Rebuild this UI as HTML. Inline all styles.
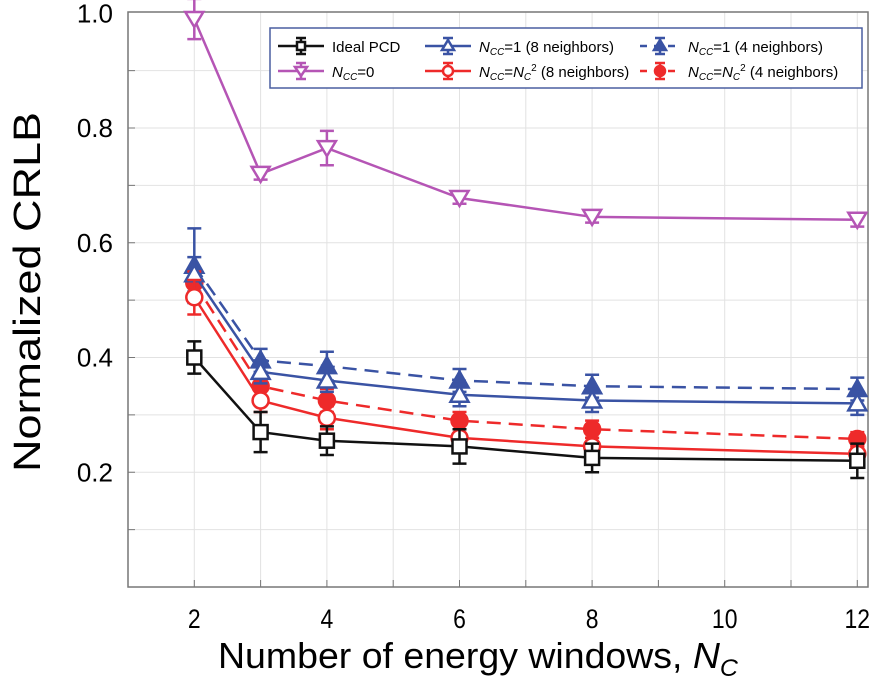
<!DOCTYPE html>
<html><head><meta charset="utf-8"><style>
body{margin:0;background:#fff;}
svg{display:block;font-family:"Liberation Sans",sans-serif;}
</style></head><body>
<svg id="chart" width="875" height="682" viewBox="0 0 875 682">
<g id="grid"></g>
<rect x="128" y="12" width="740" height="575" fill="none" stroke="#777" stroke-width="1.5"/>
<g id="axes"></g>
<g id="series"></g>
<text x="30" y="292" font-size="38" transform="rotate(-90 30 292)" text-anchor="middle" dominant-baseline="middle" textLength="360" lengthAdjust="spacingAndGlyphs">Normalized CRLB</text>
<text x="478" y="668" font-size="36" text-anchor="middle" textLength="520" lengthAdjust="spacingAndGlyphs">Number of energy windows, <tspan font-style="italic">N</tspan><tspan font-style="italic" font-size="24" dy="8">C</tspan></text>
<g id="legend">
<rect x="270" y="28" width="592" height="60" fill="#fff" stroke="#4a5fa0" stroke-width="1.5"/>
</g>
</svg>
<script>
const categories=[2,3,4,6,8,12];
const idealPCD=[0.40,0.27,0.255,0.245,0.225,0.22];
const idealErr=[0.028,0.035,0.025,0.03,0.025,0.03];
const ncc0=[0.99,0.72,0.765,0.678,0.645,0.64];
const ncc0Err=[0.035,0.01,0.03,0.01,0.01,0.012];
const ncc1n8=[0.545,0.375,0.36,0.335,0.325,0.32];
const ncc1n8Err=[0.03,0.02,0.02,0.02,0.02,0.02];
const ncc1n4=[0.56,0.395,0.385,0.36,0.35,0.345];
const ncc1n4Err=[0.065,0.02,0.025,0.02,0.02,0.02];
const nccNcN8=[0.505,0.325,0.295,0.26,0.245,0.232];
const nccNcN8Err=[0.03,0.02,0.02,0.015,0.015,0.012];
const nccNcN4=[0.53,0.35,0.325,0.29,0.275,0.258];
const nccNcN4Err=[0.02,0.02,0.02,0.015,0.015,0.012];
const yTicks=[0.2,0.4,0.6,0.8,1.0];
const yTickLabels=["0.2","0.4","0.6","0.8","1.0"];
const xTicks=[2,4,6,8,10,12];
const xTickLabels=["2","4","6","8","10","12"];

const NS="http://www.w3.org/2000/svg";
function X(v){return 128+(v-1)*66.3;}
function Y(v){return 587-v*573.75;}
function mk(tag,attrs,parent){const e=document.createElementNS(NS,tag);for(const k in attrs)e.setAttribute(k,attrs[k]);parent.appendChild(e);return e;}
const grid=document.getElementById('grid'),axes=document.getElementById('axes'),ser=document.getElementById('series'),leg=document.getElementById('legend');
for(let v=1;v<=12;v++){const l=mk('line',{x1:X(v),x2:X(v),y1:12,y2:587,stroke:'#e2e2e2','stroke-width':1},grid);


const t=mk('line',{x1:X(v),x2:X(v),y1:580,y2:587,stroke:'#777'},axes);

}
for(let i=1;i<10;i++){const v=i/10;const l=mk('line',{x1:128,x2:868,y1:Y(v),y2:Y(v),stroke:'#e2e2e2','stroke-width':1},grid);


const t=mk('line',{x1:128,x2:135,y1:Y(v),y2:Y(v),stroke:'#777'},axes);

}
yTicks.forEach((v,i)=>{const t=mk('text',{x:113,y:Y(v)+9,'font-size':26,'text-anchor':'end'},axes);t.textContent=yTickLabels[i];

});
xTicks.forEach((v,i)=>{const t=mk('text',{x:X(v),y:628,'font-size':27,'text-anchor':'middle',transform:`translate(${X(v)},0) scale(0.85,1) translate(${-X(v)},0)`},axes);t.textContent=xTickLabels[i];

});

function marker(type,color,x,y,parent,s){
 s=s||8;let e;
 if(type==='sq')e=mk('rect',{x:x-s+1,y:y-s+1,width:2*s-2,height:2*s-2,fill:'#fff',stroke:color,'stroke-width':2.5},parent);
 else if(type==='circ'||type==='fcirc')e=mk('circle',{cx:x,cy:y,r:s,fill:type==='fcirc'?color:'#fff',stroke:color,'stroke-width':2.5},parent);
 else if(type==='tri'||type==='ftri')e=mk('polygon',{points:`${x},${y-s-1} ${x-s-1},${y+s-1} ${x+s+1},${y+s-1}`,fill:type==='ftri'?color:'#fff',stroke:color,'stroke-width':2.5},parent);
 else e=mk('polygon',{points:`${x},${y+s} ${x-s-1},${y-s+1} ${x+s+1},${y-s+1}`,fill:'#fff',stroke:color,'stroke-width':2.5},parent);
 return e;}
const series=[
 {name:'ncc0',vals:ncc0,err:ncc0Err,color:'#b555b5',m:'dtri',dash:null},
 {name:'ncc1-4-neighbors',vals:ncc1n4,err:ncc1n4Err,color:'#3a53a4',m:'ftri',dash:'14 8'},
 {name:'ncc-nc2-4-neighbors',vals:nccNcN4,err:nccNcN4Err,color:'#ee2a2a',m:'fcirc',dash:'14 8'},
 {name:'ncc1-8-neighbors',vals:ncc1n8,err:ncc1n8Err,color:'#3a53a4',m:'tri',dash:null},
 {name:'ncc-nc2-8-neighbors',vals:nccNcN8,err:nccNcN8Err,color:'#ee2a2a',m:'circ',dash:null},
 {name:'ideal-pcd',vals:idealPCD,err:idealErr,color:'#111',m:'sq',dash:null}];
series.forEach(s=>{
 const g=mk('g',{},ser);
 
 
 const pts=categories.map((c,i)=>X(c)+','+Y(s.vals[i])).join(' ');
 const pl=mk('polyline',{points:pts,fill:'none',stroke:s.color,'stroke-width':2.5},g);
 if(s.dash)pl.setAttribute('stroke-dasharray',s.dash);
 
 
 categories.forEach((c,i)=>{
  const x=X(c),y1=Y(s.vals[i]+s.err[i]),y2=Y(s.vals[i]-s.err[i]);
  const eb=mk('path',{d:`M${x},${y1}V${y2}M${x-7},${y1}H${x+7}M${x-7},${y2}H${x+7}`,stroke:s.color,'stroke-width':2.5,fill:'none'},g);
  
  
  const m=marker(s.m,s.color,x,Y(s.vals[i]),g);
  
  
 });
});
// legend
const legItems=[
 {x:278,y:46,color:'#111',m:'sq',dash:null,html:'Ideal PCD'},
 {x:278,y:71,color:'#b555b5',m:'dtri',dash:null,html:'<tspan font-style="italic">N</tspan><tspan font-style="italic" font-size="10" dy="3">CC</tspan><tspan dy="-3">=0</tspan>'},
 {x:425,y:46,color:'#3a53a4',m:'tri',dash:null,html:'<tspan font-style="italic">N</tspan><tspan font-style="italic" font-size="10" dy="3">CC</tspan><tspan dy="-3">=1 (8 neighbors)</tspan>'},
 {x:425,y:71,color:'#ee2a2a',m:'circ',dash:null,html:'<tspan font-style="italic">N</tspan><tspan font-style="italic" font-size="10" dy="3">CC</tspan><tspan dy="-3">=</tspan><tspan font-style="italic">N</tspan><tspan font-style="italic" font-size="10" dy="3">C</tspan><tspan font-size="10" dy="-9">2</tspan><tspan dy="6"> (8 neighbors)</tspan>'},
 {x:640,y:46,color:'#3a53a4',m:'ftri',dash:'8 8',html:'<tspan font-style="italic">N</tspan><tspan font-style="italic" font-size="10" dy="3">CC</tspan><tspan dy="-3">=1 (4 neighbors)</tspan>'},
 {x:640,y:71,color:'#ee2a2a',m:'fcirc',dash:'8 8',html:'<tspan font-style="italic">N</tspan><tspan font-style="italic" font-size="10" dy="3">CC</tspan><tspan dy="-3">=</tspan><tspan font-style="italic">N</tspan><tspan font-style="italic" font-size="10" dy="3">C</tspan><tspan font-size="10" dy="-9">2</tspan><tspan dy="6"> (4 neighbors)</tspan>'}];
legItems.forEach(it=>{
 const g=mk('g',{},leg);
 
 
 const w=it.dash?40:46;
 const l=mk('line',{x1:it.x,x2:it.x+w,y1:it.y,y2:it.y,stroke:it.color,'stroke-width':2.5},g);
 if(it.dash)l.setAttribute('stroke-dasharray','7 7');
 const cx=it.x+w/2;
 mk('path',{d:`M${cx},${it.y-8}V${it.y+8}M${cx-5},${it.y-8}H${cx+5}M${cx-5},${it.y+8}H${cx+5}`,stroke:it.color,'stroke-width':2.5},g);
 marker(it.m,it.color,cx,it.y,g,5);
 const t=mk('text',{x:it.x+w+8,y:it.y+6,'font-size':15},g);
 t.innerHTML=it.html;
});
</script>
</body></html>
